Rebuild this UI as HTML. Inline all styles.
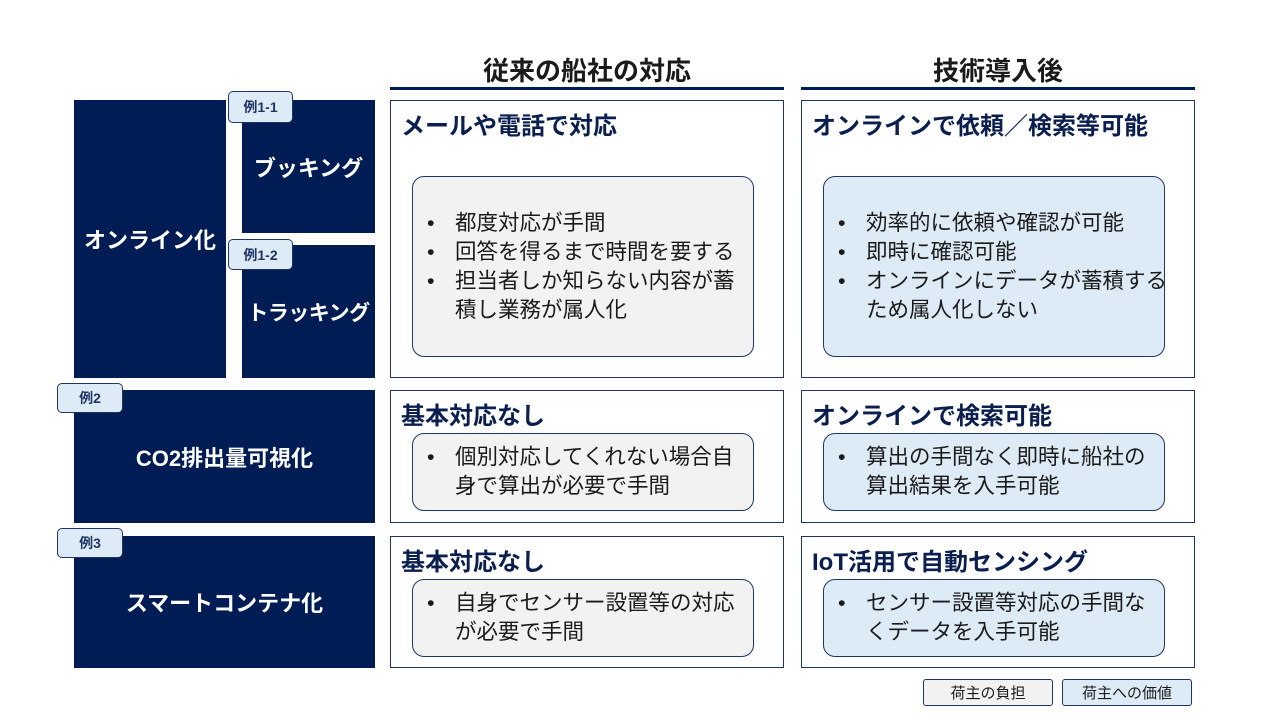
<!DOCTYPE html>
<html><head><meta charset="utf-8"><style>
body{margin:0;width:1280px;height:720px;background:#fff;position:relative;overflow:hidden;font-family:"Liberation Sans","Noto Sans CJK JP",sans-serif;color:#0a1f4f}
.a{position:absolute;box-sizing:border-box}
.dk{background:#001c54;color:#fff;font-weight:bold;font-size:22px;display:flex;align-items:center;justify-content:center;white-space:nowrap}
.tag{background:#ddebf7;border:1.5px solid #1f3564;border-radius:5px;font-size:14px;font-weight:bold;display:flex;align-items:center;justify-content:center;color:#1f3564}
.col{border:1.5px solid #1f3564;background:#fff}
.tt{position:absolute;left:10px;top:5px;font-size:24px;font-weight:bold;color:#0a1f4f;white-space:nowrap}
.in{border:1.5px solid #1f3564;border-radius:12px;display:flex;flex-direction:column;justify-content:center;font-size:21.5px;line-height:29px;color:#1a1a1a;padding-left:12px;white-space:nowrap}
.g{background:#f2f2f2}.b{background:#ddebf7}
.in div{padding-left:30px;text-indent:-30px}
.in div span{display:inline-block;width:30px;text-indent:0;text-align:left;padding-left:2px;box-sizing:border-box}
.hd{font-size:26px;font-weight:bold;text-align:center;color:#1a1a1a}
.ul{background:#001c54;height:3px}
.lg{border:1.5px solid #1f3564;border-radius:3px;font-size:15px;display:flex;align-items:center;justify-content:center;color:#1a1a1a}
</style></head><body>
<div class="a hd" style="left:390px;width:394px;top:51px">従来の船社の対応</div>
<div class="a ul" style="left:390px;width:394px;top:87px"></div>
<div class="a hd" style="left:801px;width:394px;top:51px">技術導入後</div>
<div class="a ul" style="left:801px;width:394px;top:87px"></div>

<div class="a dk" style="left:74px;top:100px;width:152px;height:278px">オンライン化</div>
<div class="a dk" style="left:242px;top:100px;width:133px;height:133px">ブッキング</div>
<div class="a dk" style="left:242px;top:245px;width:133px;height:133px;font-size:21px;letter-spacing:-0.5px">トラッキング</div>
<div class="a dk" style="left:74px;top:390px;width:301px;height:133px">CO2排出量可視化</div>
<div class="a dk" style="left:74px;top:536px;width:301px;height:132px">スマートコンテナ化</div>
<div class="a tag" style="left:228px;top:91px;width:65px;height:32px">例1-1</div>
<div class="a tag" style="left:228px;top:239px;width:65px;height:31px">例1-2</div>
<div class="a tag" style="left:57px;top:383px;width:66px;height:30px">例2</div>
<div class="a tag" style="left:57px;top:528px;width:66px;height:30px">例3</div>

<div class="a col" style="left:390px;top:100px;width:394px;height:278px"><div class="tt">メールや電話で対応</div></div>
<div class="a col" style="left:801px;top:100px;width:394px;height:278px"><div class="tt">オンラインで依頼／検索等可能</div></div>
<div class="a col" style="left:390px;top:390px;width:394px;height:133px"><div class="tt">基本対応なし</div></div>
<div class="a col" style="left:801px;top:390px;width:394px;height:133px"><div class="tt">オンラインで検索可能</div></div>
<div class="a col" style="left:390px;top:536px;width:394px;height:132px"><div class="tt">基本対応なし</div></div>
<div class="a col" style="left:801px;top:536px;width:394px;height:132px"><div class="tt">IoT活用で自動センシング</div></div>

<div class="a in g" style="left:412px;top:176px;width:342px;height:181px"><div><span>•</span>都度対応が手間</div><div><span>•</span>回答を得るまで時間を要する</div><div><span>•</span>担当者しか知らない内容が蓄<br>積し業務が属人化</div></div>
<div class="a in b" style="left:823px;top:176px;width:342px;height:181px"><div><span>•</span>効率的に依頼や確認が可能</div><div><span>•</span>即時に確認可能</div><div><span>•</span>オンラインにデータが蓄積する<br>ため属人化しない</div></div>
<div class="a in g" style="left:412px;top:433px;width:342px;height:78px"><div><span>•</span>個別対応してくれない場合自<br>身で算出が必要で手間</div></div>
<div class="a in b" style="left:823px;top:433px;width:342px;height:78px"><div><span>•</span>算出の手間なく即時に船社の<br>算出結果を入手可能</div></div>
<div class="a in g" style="left:412px;top:579px;width:342px;height:78px"><div><span>•</span>自身でセンサー設置等の対応<br>が必要で手間</div></div>
<div class="a in b" style="left:823px;top:579px;width:342px;height:78px"><div><span>•</span>センサー設置等対応の手間な<br>くデータを入手可能</div></div>

<div class="a lg g" style="left:923px;top:679px;width:130px;height:27px">荷主の負担</div>
<div class="a lg b" style="left:1062px;top:679px;width:130px;height:27px">荷主への価値</div>
</body></html>
